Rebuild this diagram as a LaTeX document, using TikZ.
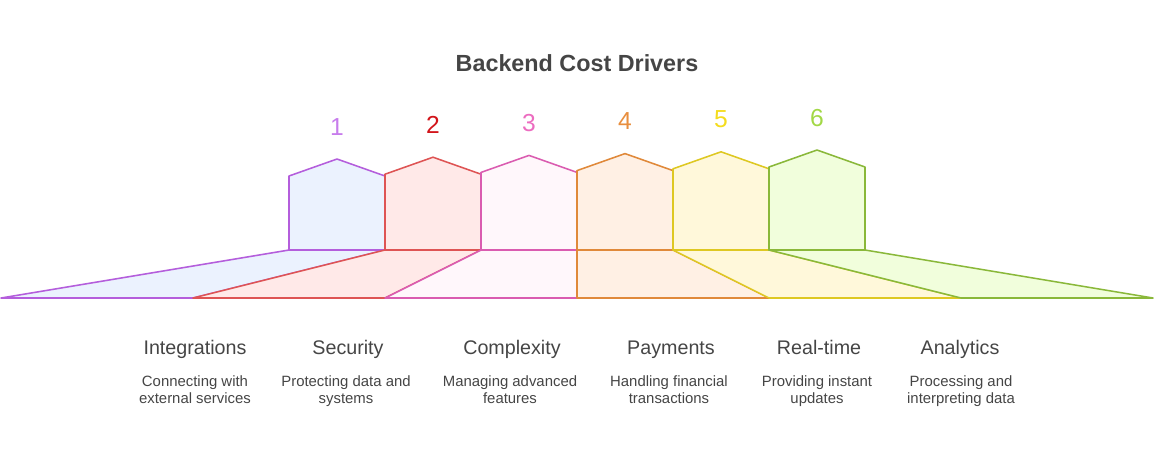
\documentclass[tikz,border=0pt]{standalone}
\usepackage{fontspec}
\setmainfont{Liberation Sans}
\usetikzlibrary{positioning}
\definecolor{DriverInk}{HTML}{454545}
\definecolor{DriverPurple}{HTML}{B45EDC}
\definecolor{DriverRed}{HTML}{DE5454}
\definecolor{DriverPink}{HTML}{DA5CB0}
\definecolor{DriverOrange}{HTML}{E0893A}
\definecolor{DriverYellow}{HTML}{DEC822}
\definecolor{DriverGreen}{HTML}{8AB83A}
\definecolor{FillPurple}{HTML}{EBF2FE}
\definecolor{FillRed}{HTML}{FFE9E8}
\definecolor{FillPink}{HTML}{FFF7FB}
\definecolor{FillOrange}{HTML}{FFF0E4}
\definecolor{FillYellow}{HTML}{FFF8DA}
\definecolor{FillGreen}{HTML}{F1FEDC}
\definecolor{NumPurple}{HTML}{C77CEC}
\definecolor{NumRed}{HTML}{D2141A}
\definecolor{NumPink}{HTML}{EC6CC0}
\definecolor{NumOrange}{HTML}{E88E3E}
\definecolor{NumYellow}{HTML}{F4DC1E}
\definecolor{NumGreen}{HTML}{A2D846}
\tikzset{
    % outlines of the houses and of the floor strips
    driver shape/.style={
        line width=1.1pt,
        line join=round
    },
    number label/.style={
        anchor=base,
        font=\fontsize{17.5}{20}\selectfont
    },
    driver name/.style={
        anchor=base,
        text=DriverInk,
        font=\fontsize{14}{16}\selectfont
    },
    driver text/.style={
        anchor=base,
        text=DriverInk,
        align=center,
        font=\fontsize{10.6}{12}\selectfont
    }
}
\begin{document}
\begin{tikzpicture}[x=0.025cm, y=-0.025cm]
    \useasboundingbox (0,0) rectangle (1154,455);

    % Title
    \node[anchor=base, text=DriverInk, font=\fontsize{16.6}{20}\selectfont\bfseries] (title) at (577,71) {Backend Cost Drivers};

    % Floor strips and houses
    \foreach \i/\col/\fil/\num in {1/DriverPurple/FillPurple/NumPurple, 2/DriverRed/FillRed/NumRed, 3/DriverPink/FillPink/NumPink, 4/DriverOrange/FillOrange/NumOrange, 5/DriverYellow/FillYellow/NumYellow, 6/DriverGreen/FillGreen/NumGreen}{
        \pgfmathsetmacro{\left}{289+96*(\i-1)}
        \pgfmathsetmacro{\right}{\left+96}
        \pgfmathsetmacro{\mid}{\left+48}
        \pgfmathsetmacro{\low}{1+192*(\i-1)}
        \pgfmathsetmacro{\high}{1+192*\i}
        \pgfmathsetmacro{\wall}{176-1.8*(\i-1)}
        \pgfmathsetmacro{\peak}{159-1.8*(\i-1)}
        \pgfmathsetmacro{\base}{135-1.8*(\i-1)}
        \filldraw[driver shape, draw=\col, fill=\fil] (\left,250) -- (\right,250) -- (\high,298) -- (\low,298) -- cycle;
        \filldraw[driver shape, draw=\col, fill=\fil] (\left,250) -- (\left,\wall) -- (\mid,\peak) -- (\right,\wall) -- (\right,250) -- cycle;
        \node[number label, text=\num] (num\i) at (\mid,\base) {\i};
    }

    % Names
    \node[driver name] (integrations) at (195,354) {Integrations};
    \node[driver name] (security) at (348,354) {Security};
    \node[driver name] (complexity) at (512,354) {Complexity};
    \node[driver name] (payments) at (671,354) {Payments};
    \node[driver name] (realtime) at (819,354) {Real-time};
    \node[driver name] (analytics) at (960,354) {Analytics};

    % Descriptions
    \node[driver text] (integrations-text) at (195,403) {Connecting with\\external services};
    \node[driver text] (security-text) at (346,403) {Protecting data and\\systems};
    \node[driver text] (complexity-text) at (510,403) {Managing advanced\\features};
    \node[driver text] (payments-text) at (669,403) {Handling financial\\transactions};
    \node[driver text] (realtime-text) at (817,403) {Providing instant\\updates};
    \node[driver text] (analytics-text) at (961,403) {Processing and\\interpreting data};
\end{tikzpicture}
\end{document}
